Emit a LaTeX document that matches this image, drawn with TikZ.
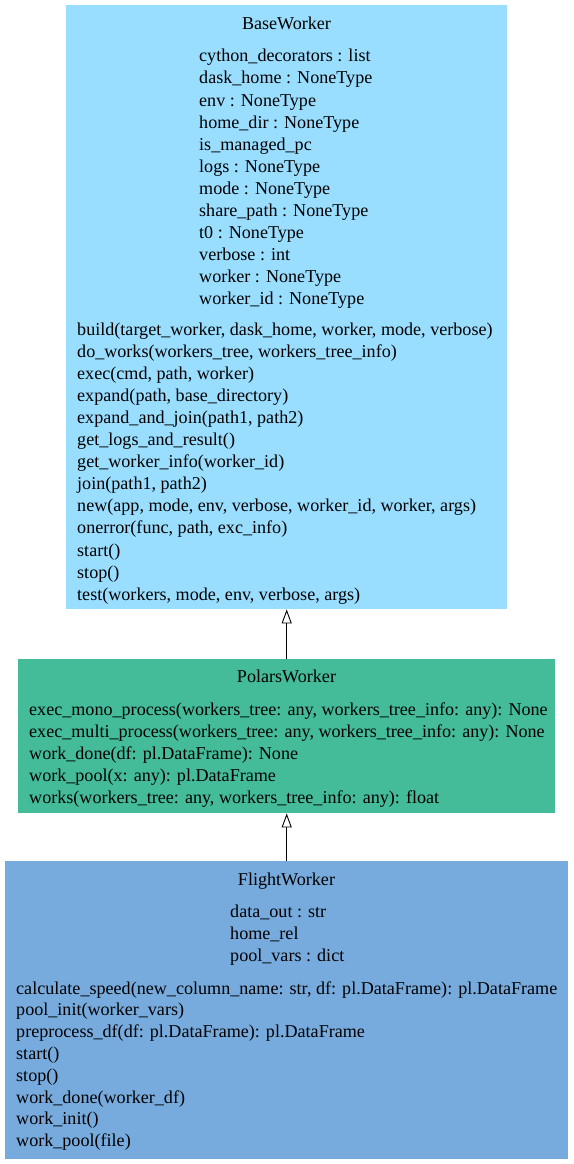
\documentclass[tikz,border=0pt]{standalone}
\usepackage{fontspec}
\setmainfont{Liberation Serif}
\newfontfamily\tms{Liberation Serif}
\usetikzlibrary{arrows.meta}
\definecolor{cbase}{HTML}{99DDFF}
\definecolor{cpolars}{HTML}{44BB99}
\definecolor{cflight}{HTML}{77AADD}
\tikzset{
  box/.style={draw=none, inner sep=0pt, anchor=north west},
  txt/.style={inner sep=0pt, anchor=base west, font=\tms\fontsize{18.1pt}{22pt}\selectfont},
  ttl/.style={inner sep=0pt, anchor=base, font=\tms\fontsize{18.1pt}{22pt}\selectfont},
  inh/.style={draw=black, line width=0.9pt, -{Triangle[open, width=10pt, length=14pt, fill=white]}}
}
\begin{document}
\begin{tikzpicture}[x=1pt,y=1pt]
\useasboundingbox (0,0) rectangle (573,-1164);
% boxes
\node[box, fill=cbase, minimum width=441pt, minimum height=604pt] (base) at (66,-5) {};
\node[box, fill=cpolars, minimum width=537pt, minimum height=154pt] (polars) at (18,-659) {};
\node[box, fill=cflight, minimum width=563pt, minimum height=298pt] (flight) at (5,-861) {};
% connectors
\draw[inh] (polars.north) -- (base.south);
\draw[inh] (flight.north) -- (polars.south);
% BaseWorker
\node[ttl] (bt) at (286.5,-29.5) {BaseWorker};
\foreach \t [count=\i from 0] in {cython\_decorators : list, dask\_home : NoneType, env : NoneType, home\_dir : NoneType, is\_managed\_pc, logs : NoneType, mode : NoneType, share\_path : NoneType, t0 : NoneType, verbose : int, worker : NoneType, worker\_id : NoneType}
  \node[txt] (ba\i) at (199,-62-22*\i) {\t};
\foreach \t [count=\i from 0] in {{build(target\_worker, dask\_home, worker, mode, verbose)}, {do\_works(workers\_tree, workers\_tree\_info)}, {exec(cmd, path, worker)}, {expand(path, base\_directory)}, {expand\_and\_join(path1, path2)}, {get\_logs\_and\_result()}, {get\_worker\_info(worker\_id)}, {join(path1, path2)}, {new(app, mode, env, verbose, worker\_id, worker, args)}, {onerror(func, path, exc\_info)}, {start()}, {stop()}, {test(workers, mode, env, verbose, args)}}
  \node[txt] (bm\i) at (77,-335-22.1*\i) {\t};
% PolarsWorker
\node[ttl] (pt) at (286.5,-682) {PolarsWorker};
\foreach \t [count=\i from 0] in {{exec\_mono\_process(workers\_tree: any, workers\_tree\_info: any): None}, {exec\_multi\_process(workers\_tree: any, workers\_tree\_info: any): None}, {work\_done(df: pl.DataFrame): None}, {work\_pool(x: any): pl.DataFrame}, {works(workers\_tree: any, workers\_tree\_info: any): float}}
  \node[txt] (pm\i) at (29,-715-22*\i) {\t};
% FlightWorker
\node[ttl] (ft) at (286.5,-885) {FlightWorker};
\foreach \t [count=\i from 0] in {data\_out : str, home\_rel, pool\_vars : dict}
  \node[txt] (fa\i) at (230,-917-22*\i) {\t};
\foreach \t [count=\i from 0] in {{calculate\_speed(new\_column\_name: str, df: pl.DataFrame): pl.DataFrame}, {pool\_init(worker\_vars)}, {preprocess\_df(df: pl.DataFrame): pl.DataFrame}, {start()}, {stop()}, {work\_done(worker\_df)}, {work\_init()}, {work\_pool(file)}}
  \node[txt] (fm\i) at (16,-994-21.8*\i) {\t};
\end{tikzpicture}
\end{document}
